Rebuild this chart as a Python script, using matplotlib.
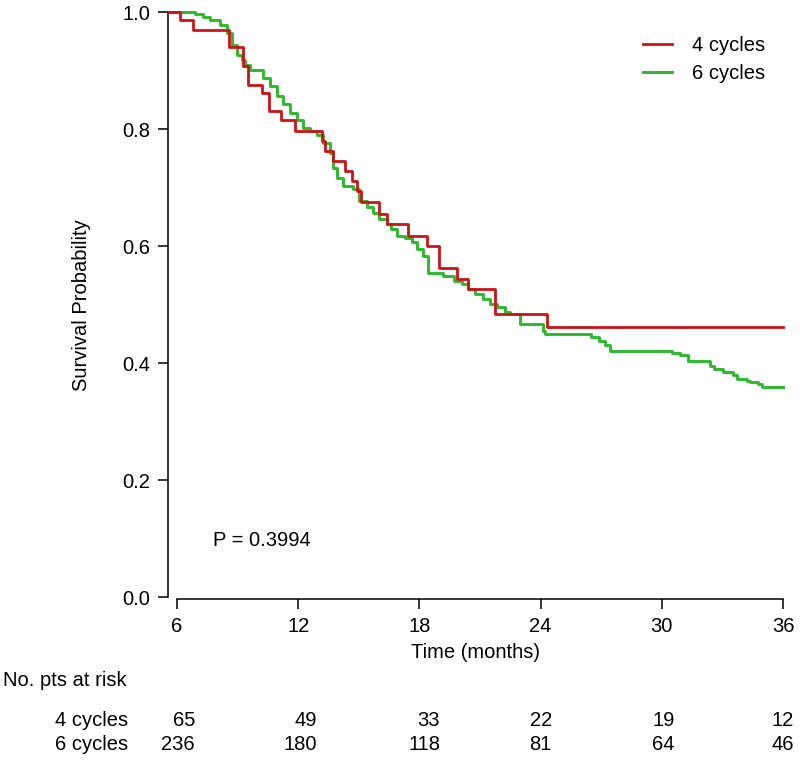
import matplotlib
matplotlib.use('Agg')
import matplotlib.pyplot as plt
import matplotlib.transforms as mtransforms

plt.rcParams['font.family'] = ['Liberation Sans', 'DejaVu Sans']

# Kaplan-Meier step data (time in months, survival after step)
t_4cyc = [5.6, 6.15, 6.81, 8.55, 9.29, 9.5, 10.19, 10.55, 11.15, 11.84, 13.16, 13.33,
          13.74, 14.32, 14.65, 14.9, 15.1, 16.02, 16.38, 17.45, 18.36, 18.99, 19.85,
          20.42, 21.74, 24.33, 36.0]
s_4cyc = [1.0, 0.986, 0.970, 0.941, 0.907, 0.875, 0.861, 0.830, 0.815, 0.796, 0.779,
          0.762, 0.745, 0.728, 0.711, 0.694, 0.675, 0.654, 0.637, 0.617, 0.600, 0.563,
          0.543, 0.526, 0.484, 0.462, 0.462]

t_6cyc = [5.6, 6.9, 7.3, 7.63, 8.13, 8.46, 8.71, 8.96, 9.2, 9.37, 9.61, 10.27, 10.6,
          10.93, 11.26, 11.59, 11.93, 12.25, 12.58, 12.92, 13.24, 13.57, 13.74, 13.9,
          14.24, 14.73, 15.0, 15.4, 15.7, 16.0, 16.38, 16.6, 16.88, 17.29, 17.62, 17.87,
          18.2, 18.44, 19.18, 19.7, 20.1, 20.42, 20.75, 21.16, 21.5, 21.82, 22.24, 22.5,
          22.98, 24.13, 24.22, 26.5, 26.9, 27.2, 27.44, 30.49, 30.9, 31.3, 32.4, 32.6,
          33.05, 33.54, 33.7, 34.2, 34.37, 34.78, 34.94, 36.0]
s_6cyc = [1.0, 0.996, 0.992, 0.986, 0.978, 0.964, 0.944, 0.927, 0.918, 0.910, 0.901,
          0.887, 0.873, 0.856, 0.842, 0.827, 0.816, 0.802, 0.796, 0.790, 0.776, 0.759,
          0.734, 0.717, 0.702, 0.697, 0.677, 0.666, 0.657, 0.646, 0.637, 0.629, 0.617,
          0.613, 0.606, 0.595, 0.583, 0.554, 0.548, 0.540, 0.535, 0.526, 0.518, 0.509,
          0.501, 0.495, 0.488, 0.484, 0.466, 0.455, 0.450, 0.445, 0.438, 0.430, 0.421,
          0.417, 0.413, 0.404, 0.395, 0.390, 0.384, 0.380, 0.373, 0.370, 0.367, 0.364,
          0.359, 0.359]

risk_times = [6, 12, 18, 24, 30, 36]
risk_4cyc = [65, 49, 33, 22, 19, 12]
risk_6cyc = [236, 180, 118, 81, 64, 46]
p_text = 'P = 0.3994'

RED = '#cc1418'
GREEN = '#2eb82e'
FS = 14.5

fig = plt.figure(figsize=(8, 7.6), dpi=100)
ax = fig.add_axes([168 / 800, 161 / 760, 615 / 800, 587 / 760])

ax.step(t_4cyc, s_4cyc, where='post', color=RED, lw=2.0, label='4 cycles', clip_on=False, zorder=3)
ax.step(t_6cyc, s_6cyc, where='post', color=GREEN, lw=2.1, label='6 cycles', clip_on=False, zorder=2)

ax.set_xlim(6 - 9 / 20.2, 36)
ax.set_ylim(-2 / 587, 1.0)
ax.spines['top'].set_visible(False)
ax.spines['right'].set_visible(False)
ax.spines['left'].set_bounds(0, 1)
ax.spines['bottom'].set_bounds(6, 36)
for sp in ('left', 'bottom'):
    ax.spines[sp].set_linewidth(1.1)

ax.set_xticks(risk_times)
ax.set_yticks([0, 0.2, 0.4, 0.6, 0.8, 1.0])
ax.set_yticklabels(['0.0', '0.2', '0.4', '0.6', '0.8', '1.0'])
ax.tick_params(axis='both', direction='out', length=7, width=1.1, labelsize=FS, pad=6)
ax.set_xlabel('Time (months)', fontsize=FS, labelpad=5)
ax.set_ylabel('Survival Probability', fontsize=FS, labelpad=22)

ax.text(7.78, 0.097, p_text, fontsize=FS, ha='left', va='center')

ax.legend(loc='upper right', bbox_to_anchor=(1.0, 0.99), frameon=False, fontsize=FS,
          handlelength=1.4, handletextpad=1.0, labelspacing=0.45)

# number at risk table below the axis
trans = mtransforms.blended_transform_factory(ax.transData, fig.transFigure)
fig.text(3 / 800, 1 - 681 / 760, 'No. pts at risk', fontsize=FS, ha='left', va='center')
fig.text(128 / 800, 1 - 720 / 760, '4 cycles', fontsize=FS, ha='right', va='center')
fig.text(128 / 800, 1 - 745 / 760, '6 cycles', fontsize=FS, ha='right', va='center')
offsets = [0.89, 0.93, 1.02, 0.56, 0.65, 0.55]
for tt, a, b, off in zip(risk_times, risk_4cyc, risk_6cyc, offsets):
    ax.text(tt + off, 1 - 720 / 760, str(a), transform=trans, fontsize=FS, ha='right', va='center', clip_on=False)
    ax.text(tt + off, 1 - 745 / 760, str(b), transform=trans, fontsize=FS, ha='right', va='center', clip_on=False)

fig.savefig('out.png', dpi=100)
